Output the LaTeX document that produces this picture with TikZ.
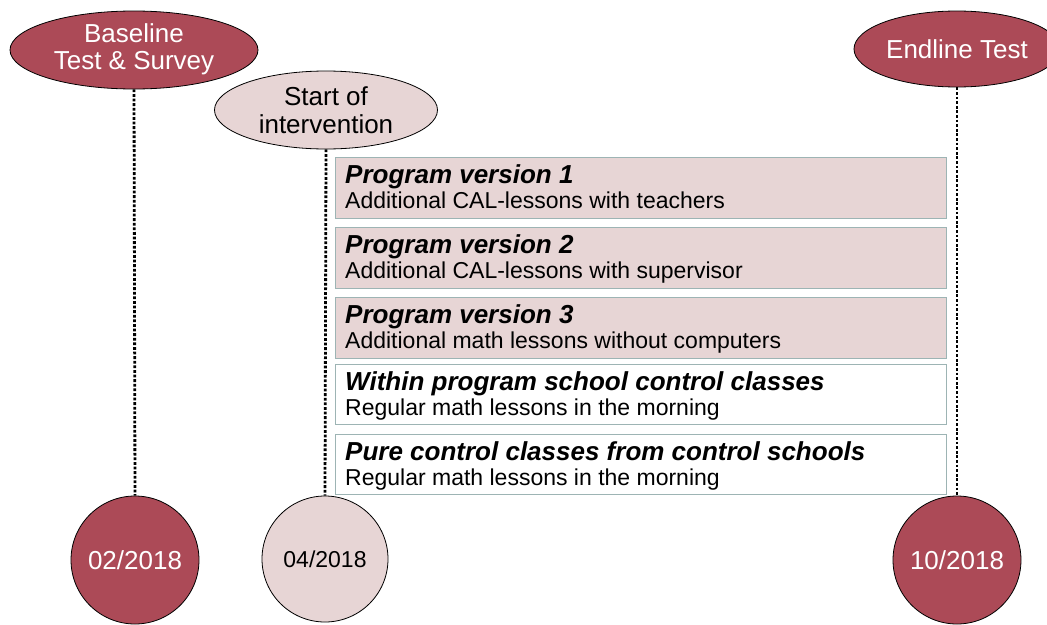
\documentclass[tikz,border=0pt]{standalone}
\usepackage{fontspec}
\setmainfont{Liberation Sans}
\usetikzlibrary{shapes.geometric}
\definecolor{darkred}{HTML}{AC4A57}
\definecolor{lightpink}{HTML}{E7D5D5}
\definecolor{boxborder}{HTML}{9DB4B4}
\tikzset{
  bigell/.style={ellipse, draw=black, line width=0.8pt, inner sep=0pt, align=center,
    font=\fontsize{26}{28}\selectfont},
  darkell/.style={bigell, fill=darkred, text=white},
  lightell/.style={bigell, fill=lightpink, text=black},
  datecirc/.style={circle, draw=black, line width=0.8pt, inner sep=0pt, minimum size=128pt,
    font=\fontsize{26}{28}\selectfont},
  darkcirc/.style={datecirc, fill=darkred, text=white},
  lightcirc/.style={datecirc, fill=lightpink, text=black, font=\fontsize{23}{26}\selectfont},
  dotline/.style={line width=2.8pt, dash pattern=on 2.8pt off 1.8pt},
  groupbox/.style={rectangle, draw=boxborder, line width=1pt, inner sep=0pt,
    minimum width=611pt, minimum height=61pt},
  pinkbox/.style={groupbox, fill=lightpink},
  whitebox/.style={groupbox, fill=white},
  titletext/.style={anchor=base west, inner sep=0pt, font=\fontsize{26}{28}\bfseries\itshape\selectfont},
  subtext/.style={anchor=base west, inner sep=0pt, font=\fontsize{23}{25}\selectfont},
}
\begin{document}
\begin{tikzpicture}[x=1pt,y=-1pt]
\useasboundingbox (0,0) rectangle (1047,624);
% ellipses
\node[darkell, minimum width=248pt, minimum height=78pt] (base) at (134,50) {\raisebox{-2pt}{\begin{tabular}{@{}c@{}}Baseline\\[-1pt]Test \& Survey\end{tabular}}};
\node[lightell, minimum width=223pt, minimum height=78pt] (start) at (326,110) {Start of\\intervention};
\node[darkell, minimum width=206pt, minimum height=76pt] (end) at (957,49) {Endline Test};
% circles
\node[darkcirc] (d1) at (135,560) {02/2018};
\node[lightcirc, minimum size=126pt] (d2) at (325,559) {04/2018};
\node[darkcirc] (d3) at (957,560) {10/2018};
% dotted timelines
\draw[dotline] (base.south) -- (d1.north);
\draw[dotline] (start.south) -- (d2.north);
\draw[dotline] (end.south) -- (d3.north);
% boxes
\node[pinkbox, anchor=north west] (b1) at (335,157) {};
\node[pinkbox, anchor=north west] (b2) at (335,227) {};
\node[pinkbox, anchor=north west] (b3) at (335,297) {};
\node[whitebox, anchor=north west, minimum height=60pt] (b4) at (335,364) {};
\node[whitebox, anchor=north west, minimum height=60pt] (b5) at (335,434) {};
% texts
\node[titletext] (t1) at (345,183) {Program version 1};
\node[subtext] (s1) at (345,208) {Additional CAL-lessons with teachers};
\node[titletext] (t2) at (345,253) {Program version 2};
\node[subtext] (s2) at (345,278) {Additional CAL-lessons with supervisor};
\node[titletext] (t3) at (345,323) {Program version 3};
\node[subtext] (s3) at (345,348) {Additional math lessons without computers};
\node[titletext] (t4) at (345,390) {Within program school control classes};
\node[subtext] (s4) at (345,415) {Regular math lessons in the morning};
\node[titletext] (t5) at (345,460) {Pure control classes from control schools};
\node[subtext] (s5) at (345,485) {Regular math lessons in the morning};
\end{tikzpicture}
\end{document}
